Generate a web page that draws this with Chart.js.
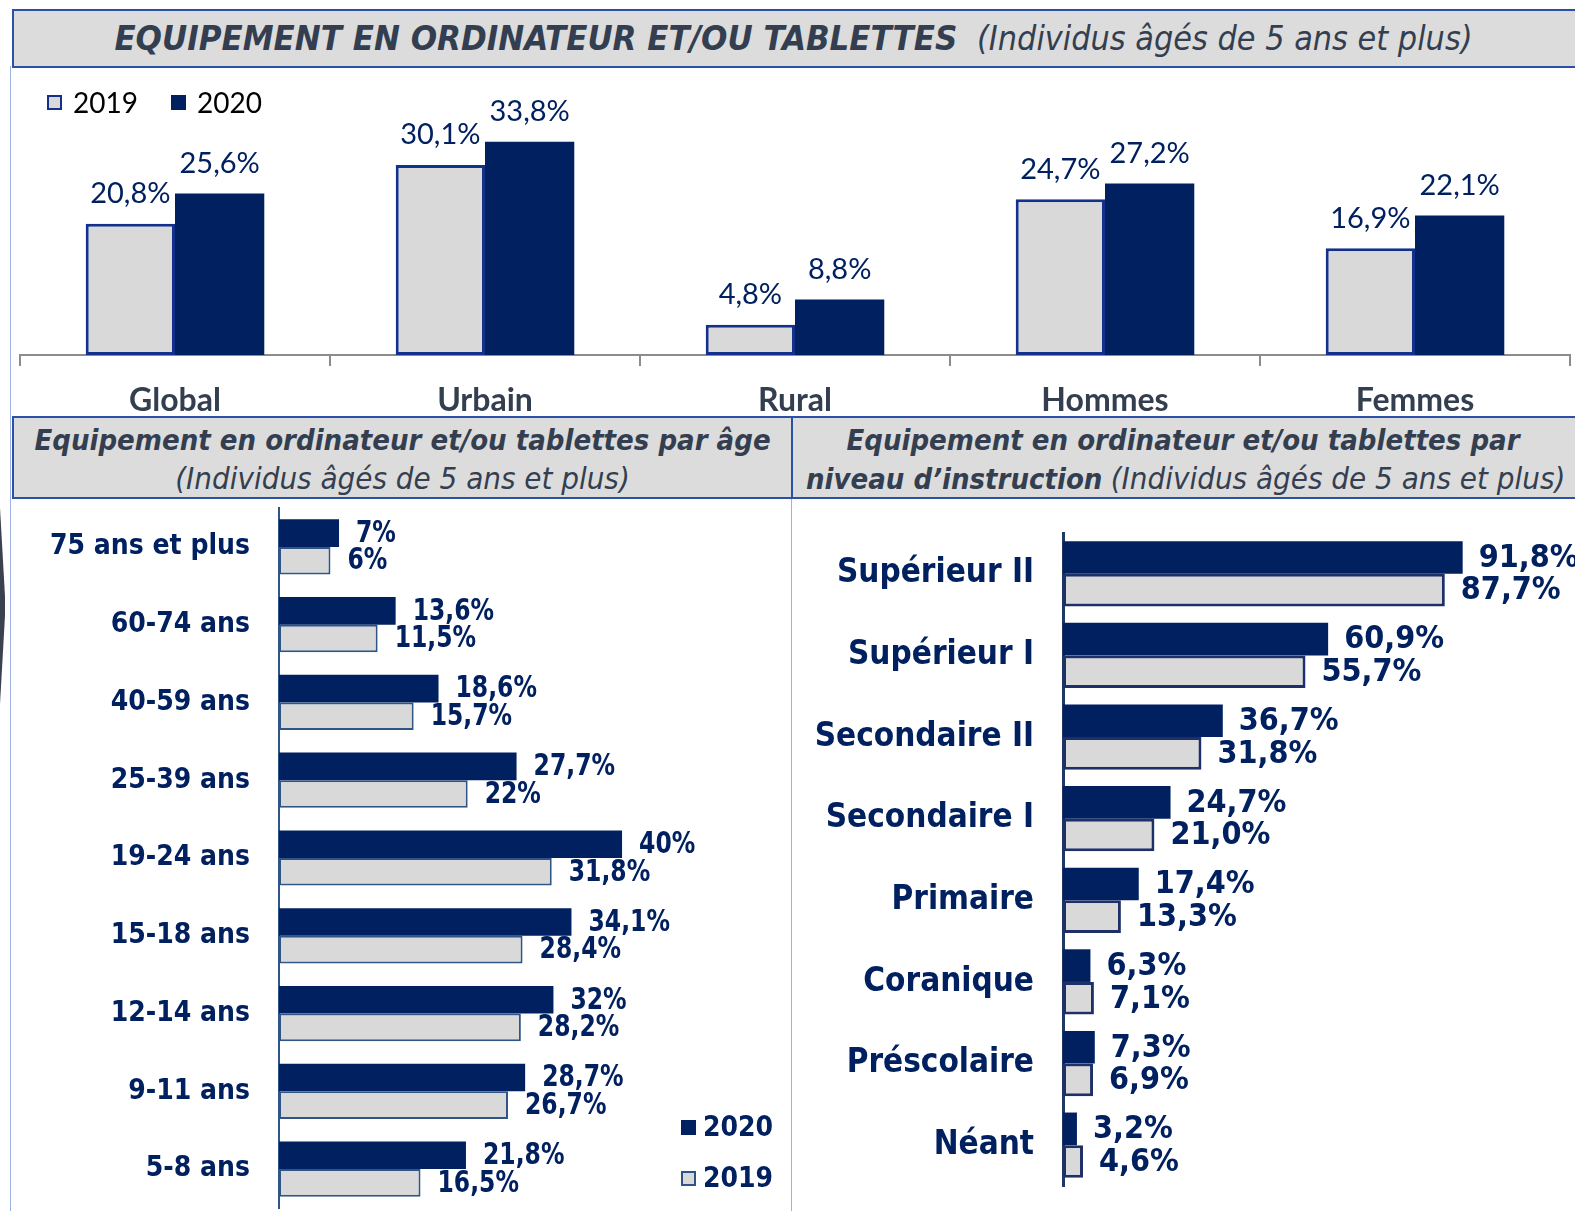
<!DOCTYPE html>
<html>
<head>
<meta charset="utf-8">
<script src="https://cdn.jsdelivr.net/npm/chart.js@4.4.1/dist/chart.umd.min.js"></script>
<style>
  body { margin: 0; width: 1575px; height: 1211px; background: #fff; position: relative; overflow: hidden; }
  .narrow { font-family: 'DejaVu Sans Condensed', 'Liberation Sans Narrow', 'Liberation Sans', sans-serif; }
  .box { position: absolute; background: #dcdcdc; border: 2px solid #2c4fa8; box-sizing: border-box;
         color: #333f50; font-style: italic; text-align: center; white-space: nowrap; }
  .box .sub { font-size: 31px; }
  .vline { position: absolute; width: 1px; background: #9db1e4; }
  canvas { position: absolute; }
</style>
</head>
<body>
<div class="vline" style="left:10px;top:66px;height:1145px;"></div>
<div class="vline" style="left:791px;top:497px;height:714px;"></div>
<div style="position:absolute;left:0;top:508px;width:5px;height:196px;background:#3a4250;clip-path:polygon(0 0,100% 45%,100% 55%,0 100%);"></div>

<div class="box narrow" style="left:12px;top:9px;width:1575px;height:59px;line-height:55px;font-size:34.5px;padding-right:12px;">
  <b>EQUIPEMENT EN ORDINATEUR ET/OU TABLETTES</b>&nbsp;&nbsp;<span style="font-size:33.8px;">(Individus âgés de 5 ans et plus)</span>
</div>
<div class="box narrow" style="left:12px;top:416px;width:781px;height:83px;font-size:29px;line-height:38px;padding-top:3px;">
  <b>Equipement en ordinateur et/ou tablettes par âge</b><br><span class="sub">(Individus âgés de 5 ans et plus)</span>
</div>
<div class="box narrow" style="left:791px;top:416px;width:800px;height:83px;font-size:29px;line-height:38px;padding-top:3px;text-align:left;">
  <div style="width:780px;text-align:center;"><b>Equipement en ordinateur et/ou tablettes par</b></div>
  <div style="padding-left:13px;"><b>niveau d’instruction</b> <span class="sub">(Individus âgés de 5 ans et plus)</span></div>
</div>

<canvas id="topChart" width="1575" height="345" style="left:0;top:70px;"></canvas>
<canvas id="ageChart" width="779" height="714" style="left:12px;top:497px;"></canvas>
<canvas id="eduChart" width="784" height="714" style="left:791px;top:497px;"></canvas>

<script>
// data
const seriesNames = ['2019', '2020'];
const topCategories = ['Global', 'Urbain', 'Rural', 'Hommes', 'Femmes'];
const top2019 = [20.8, 30.1, 4.8, 24.7, 16.9];
const top2020 = [25.6, 33.8, 8.8, 27.2, 22.1];

const ageCategories = ['75 ans et plus', '60-74 ans', '40-59 ans', '25-39 ans', '19-24 ans', '15-18 ans', '12-14 ans', '9-11 ans', '5-8 ans'];
const age2020 = [7, 13.6, 18.6, 27.7, 40, 34.1, 32, 28.7, 21.8];
const age2019 = [6, 11.5, 15.7, 22, 31.8, 28.4, 28.2, 26.7, 16.5];

const eduCategories = ['Supérieur II', 'Supérieur I', 'Secondaire II', 'Secondaire I', 'Primaire', 'Coranique', 'Préscolaire', 'Néant'];
const edu2020 = [91.8, 60.9, 36.7, 24.7, 17.4, 6.3, 7.3, 3.2];
const edu2019 = [87.7, 55.7, 31.8, 21.0, 13.3, 7.1, 6.9, 4.6];

const NAVY = '#002060';
const GREY = '#d9d9d9';
const NARROW = "'DejaVu Sans Condensed', 'Liberation Sans Narrow', 'Liberation Sans', sans-serif";
const SANS = "Lato, 'Open Sans', sans-serif";

const oneDecimal = v => v.toFixed(1).replace('.', ',') + '%';
const asIs = v => String(v).replace('.', ',') + '%';

// no extra room for the first/last tick labels
function noLabelPadding(s) {
  s.paddingTop = 0; s.paddingBottom = 0; s.paddingLeft = 0; s.paddingRight = 0;
}

// value labels next to / above bars
const valueLabels = {
  id: 'valueLabels',
  afterDatasetsDraw(chart, args, opts) {
    const ctx = chart.ctx;
    const sx = opts.sx || 1;
    chart.data.datasets.forEach((ds, i) => {
      chart.getDatasetMeta(i).data.forEach((bar, j) => {
        const txt = opts.format(ds.data[j]);
        ctx.save();
        ctx.font = opts.font;
        ctx.fillStyle = opts.color;
        ctx.textBaseline = 'middle';
        if (opts.horizontal) {
          ctx.textAlign = 'left';
          ctx.translate(bar.x + opts.offset, bar.y + 1);
        } else {
          ctx.textAlign = 'center';
          ctx.translate(bar.x, bar.y - opts.offset);
        }
        ctx.scale(sx, 1);
        ctx.fillText(txt, 0, 0);
        ctx.restore();
      });
    });
  }
};

// small legend with square markers
const boxLegend = {
  id: 'boxLegend',
  afterDraw(chart, args, opts) {
    const ctx = chart.ctx;
    ctx.save();
    ctx.font = opts.font;
    opts.items.forEach(it => {
      const ds = chart.data.datasets[it.index];
      ctx.fillStyle = ds.backgroundColor;
      ctx.fillRect(it.x, it.y, opts.size, opts.size);
      if (ds.borderWidth) {
        ctx.strokeStyle = ds.borderColor;
        ctx.lineWidth = 2;
        ctx.strokeRect(it.x + 1, it.y + 1, opts.size - 2, opts.size - 2);
      }
      ctx.fillStyle = opts.color;
      ctx.textAlign = 'left';
      ctx.textBaseline = 'middle';
      ctx.fillText(ds.label, it.x + opts.size + opts.gap, it.y + opts.size / 2 + 1);
    });
    ctx.restore();
  }
};

// Global / milieu / sexe (vertical bars)
new Chart(document.getElementById('topChart'), {
  type: 'bar',
  data: {
    labels: topCategories,
    datasets: [
      { label: seriesNames[0], data: top2019, backgroundColor: GREY, borderColor: '#12308c', borderWidth: 3, borderSkipped: false,
        categoryPercentage: 0.576, barPercentage: 1 },
      { label: seriesNames[1], data: top2020, backgroundColor: NAVY, borderWidth: 0,
        categoryPercentage: 0.576, barPercentage: 1 }
    ]
  },
  options: {
    responsive: false,
    animation: false,
    layout: { padding: { left: 20, right: 5, top: 20, bottom: 0 } },
    plugins: {
      legend: { display: false },
      tooltip: { enabled: false },
      valueLabels: { font: '29px ' + SANS, color: NAVY, offset: 30, format: oneDecimal },
      boxLegend: { font: '28px ' + SANS, color: '#000', size: 15, gap: 11,
        items: [{ index: 0, x: 47, y: 25 }, { index: 1, x: 171, y: 25 }] }
    },
    scales: {
      x: {
        grid: { drawOnChartArea: false, drawTicks: true, tickLength: 11, color: '#8c8c8c', lineWidth: 2, offset: true },
        border: { color: '#8c8c8c', width: 2 },
        ticks: { color: '#333f50', font: { family: SANS, size: 32, weight: 'bold' }, padding: 15 },
        afterFit(s) { noLabelPadding(s); s.height = 60; }
      },
      y: { display: false, min: 0, max: 42 }
    }
  },
  plugins: [valueLabels, boxLegend]
});

// Par âge (horizontal bars)
new Chart(document.getElementById('ageChart'), {
  type: 'bar',
  data: {
    labels: ageCategories,
    datasets: [
      { label: seriesNames[1], data: age2020, backgroundColor: NAVY, borderWidth: 0,
        categoryPercentage: 0.71, barPercentage: 1 },
      { label: seriesNames[0], data: age2019, backgroundColor: GREY, borderColor: '#2e5585', borderWidth: 2, borderSkipped: false,
        categoryPercentage: 0.71, barPercentage: 1 }
    ]
  },
  options: {
    indexAxis: 'y',
    responsive: false,
    animation: false,
    layout: { padding: { left: 0, right: 12, top: 11, bottom: 3 } },
    plugins: {
      legend: { display: false },
      tooltip: { enabled: false },
      valueLabels: { font: 'bold 30px ' + NARROW, color: NAVY, offset: 17, sx: 0.87, horizontal: true, format: asIs },
      boxLegend: { font: 'bold 28px ' + NARROW, color: NAVY, size: 15, gap: 7,
        items: [{ index: 0, x: 669, y: 623 }, { index: 1, x: 669, y: 674 }] }
    },
    scales: {
      y: {
        grid: { drawOnChartArea: false, drawTicks: false },
        border: { color: '#2e5585', width: 2 },
        ticks: { color: NAVY, font: { family: NARROW, size: 28, weight: 'bold' }, padding: 29 },
        afterFit(s) { noLabelPadding(s); s.width = 267; }
      },
      x: { display: false, min: 0, max: 58.3 }
    }
  },
  plugins: [valueLabels, boxLegend]
});

// Par niveau d'instruction (horizontal bars)
new Chart(document.getElementById('eduChart'), {
  type: 'bar',
  data: {
    labels: eduCategories,
    datasets: [
      { label: seriesNames[1], data: edu2020, backgroundColor: NAVY, borderWidth: 0,
        categoryPercentage: 0.8, barPercentage: 1 },
      { label: seriesNames[0], data: edu2019, backgroundColor: GREY, borderColor: '#1f3068', borderWidth: 3, borderSkipped: false,
        categoryPercentage: 0.8, barPercentage: 1 }
    ]
  },
  options: {
    indexAxis: 'y',
    responsive: false,
    animation: false,
    layout: { padding: { left: 0, right: 0, top: 36, bottom: 25 } },
    plugins: {
      legend: { display: false },
      tooltip: { enabled: false },
      valueLabels: { font: 'bold 32px ' + NARROW, color: NAVY, offset: 16, horizontal: true, format: oneDecimal }
    },
    scales: {
      y: {
        grid: { drawOnChartArea: false, drawTicks: false },
        border: { color: '#1f3864', width: 3 },
        ticks: { color: NAVY, font: { family: NARROW, size: 33, weight: 'bold' }, padding: 29 },
        afterFit(s) { noLabelPadding(s); s.width = 272; }
      },
      x: { display: false, min: 0, max: 117.6 }
    }
  },
  plugins: [valueLabels]
});
</script>
</body>
</html>
